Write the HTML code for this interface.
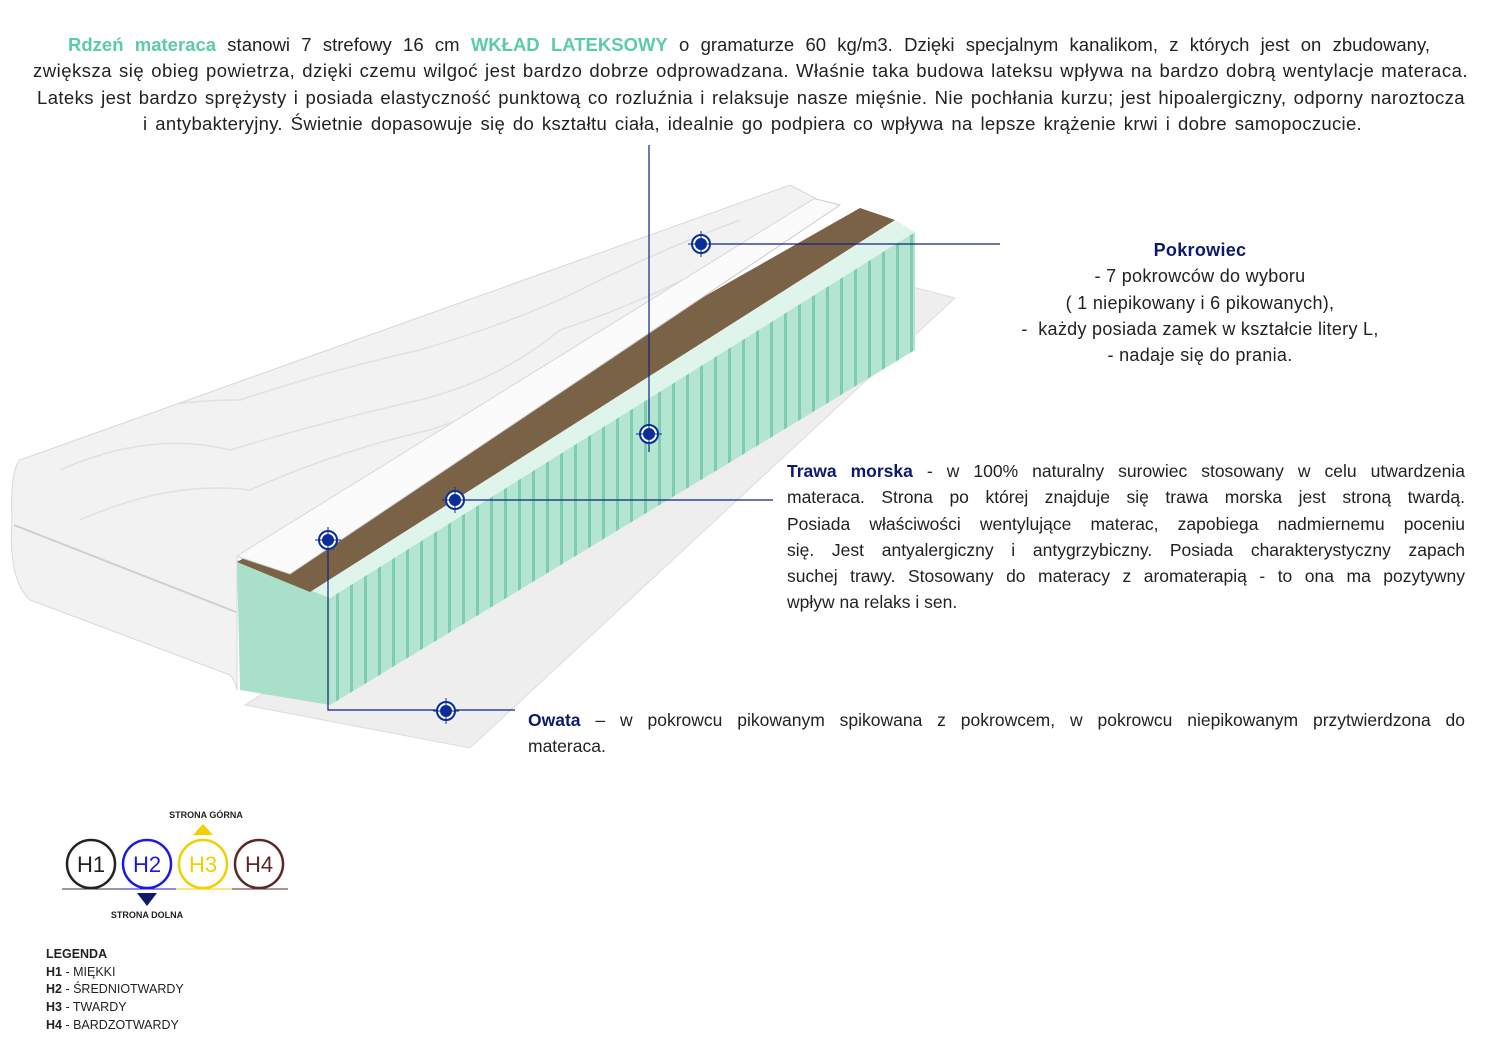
<!DOCTYPE html>
<html><head><meta charset="utf-8"><style>
body{margin:0;width:1500px;height:1051px;background:#fff;position:relative;overflow:hidden;font-family:"Liberation Sans",sans-serif;color:#222}
.t{position:absolute;font-size:18px;line-height:26.3px;white-space:nowrap}
.g{color:#5ccca6;font-weight:bold}
.b{color:#0c1a6e;font-weight:bold}
.jl{display:block;text-align:justify;text-align-last:justify;white-space:normal}
.tl{position:absolute;font-size:18.5px;line-height:26.3px;text-align:justify;text-align-last:justify;white-space:nowrap}
.leg{position:absolute;left:46px;top:946px;font-size:12.5px;line-height:17.7px;color:#222}
</style></head><body>
<div class="tl" style="left:68px;top:32px;width:1362px"><span class="g">Rdzeń materaca</span> stanowi 7 strefowy 16 cm <span class="g">WKŁAD LATEKSOWY</span> o gramaturze 60 kg/m3. Dzięki specjalnym kanalikom, z których jest on zbudowany,</div>
<div class="tl" style="left:33px;top:58px;width:1435px;letter-spacing:0.5px">zwiększa się obieg powietrza, dzięki czemu wilgoć jest bardzo dobrze odprowadzana. Właśnie taka budowa lateksu wpływa na bardzo dobrą wentylacje materaca.</div>
<div class="tl" style="left:37px;top:85px;width:1428px;letter-spacing:0.4px">Lateks jest bardzo sprężysty i posiada elastyczność punktową co rozluźnia i relaksuje nasze mięśnie. Nie pochłania kurzu; jest hipoalergiczny, odporny naroztocza</div>
<div class="tl" style="left:143px;top:111px;width:1219px;letter-spacing:0.3px">i antybakteryjny. Świetnie dopasowuje się do kształtu ciała, idealnie go podpiera co wpływa na lepsze krążenie krwi i dobre samopoczucie.</div>

<svg style="position:absolute;left:0;top:0" width="1500" height="1051">
<defs>
<pattern id="rib" width="14" height="20" patternUnits="userSpaceOnUse"><rect width="14" height="20" fill="#b3e5d1"/><rect width="3" height="20" fill="#7fcdb0"/></pattern>
<clipPath id="cv"><path d="M20,460 L790,185 L815,198 L237,556 L237,690 L30,600 Q8,580 12,520 Q10,470 20,460 Z"/></clipPath></defs>
<polygon points="905,285 955,298 470,748 245,705" fill="#eeeeee" stroke="#ddd"/>
<polygon points="330,598 915,232 915,350 330,705" fill="url(#rib)"/>
<polygon points="237,560 330,598 330,705 240,690" fill="#a9e0c9"/>
<polygon points="330,598 915,232 895,220 310,590" fill="#dff5ec"/>
<polygon points="237,562 310,592 895,220 860,208" fill="#7a6247"/>
<polygon points="236,556 290,574 840,205 812,198" fill="#fbfbfb" stroke="#ccc"/>
<path d="M20,460 L790,185 L815,198 L237,556 L237,690 Q235,680 230,675 L30,600 Q8,580 12,520 Q10,470 20,460 Z" fill="#f2f2f2" stroke="#d8d8d8"/>
<g stroke="#e0e0e0" stroke-width="1.5" fill="none" clip-path="url(#cv)">
<path d="M60,470 Q150,430 230,450 Q330,420 420,400 Q500,380 560,330 Q650,300 720,260"/>
<path d="M80,520 Q170,480 250,490 Q340,450 430,430 Q520,400 590,350 Q670,320 760,250"/>
<path d="M60,430 Q150,400 240,400 Q330,370 420,350 Q520,320 580,290 Q660,250 740,220"/>
</g>
<path d="M14,525 L236,612" stroke="#cfcfcf" stroke-width="2"/>
<g stroke="#102080" stroke-width="1.2" fill="none">
<line x1="701" y1="244" x2="1000" y2="244"/>
<line x1="649" y1="145" x2="649" y2="452"/>
<line x1="455" y1="500" x2="773" y2="500"/>
<polyline points="328,540 328,710 515,710"/>
</g>
<g fill="#0a2d9a" stroke="#0a2d9a">
<g transform="translate(701,244)"><circle r="9" fill="#fff" stroke-width="2"/><circle r="5.5"/><path d="M-13,0H13M0,-13V13" stroke-width="1"/></g>
<g transform="translate(649,434)"><circle r="9" fill="#fff" stroke-width="2"/><circle r="5.5"/><path d="M-13,0H13M0,-13V13" stroke-width="1"/></g>
<g transform="translate(455,500)"><circle r="9" fill="#fff" stroke-width="2"/><circle r="5.5"/><path d="M-13,0H13M0,-13V13" stroke-width="1"/></g>
<g transform="translate(328,540)"><circle r="9" fill="#fff" stroke-width="2"/><circle r="5.5"/><path d="M-13,0H13M0,-13V13" stroke-width="1"/></g>
<g transform="translate(446,711)"><circle r="9" fill="#fff" stroke-width="2"/><circle r="5.5"/><path d="M-13,0H13M0,-13V13" stroke-width="1"/></g>
</g>
<g font-family="Liberation Sans" font-size="22" text-anchor="middle">
<line x1="62" y1="889" x2="120" y2="889" stroke="#333"/><line x1="120" y1="889" x2="176" y2="889" stroke="#1a1acc"/><line x1="176" y1="889" x2="232" y2="889" stroke="#f0d000"/><line x1="232" y1="889" x2="288" y2="889" stroke="#5a2a2a"/>
<circle cx="91" cy="864" r="24" fill="none" stroke="#222" stroke-width="2.5"/><text x="91" y="872" fill="#222">H1</text>
<circle cx="147" cy="864" r="24" fill="none" stroke="#1a1ae0" stroke-width="2.5"/><text x="147" y="872" fill="#1a1ae0">H2</text>
<circle cx="203" cy="864" r="24" fill="none" stroke="#f0d000" stroke-width="2.5"/><text x="203" y="872" fill="#f0d000">H3</text>
<circle cx="259" cy="864" r="24" fill="none" stroke="#5a2a2a" stroke-width="2.5"/><text x="259" y="872" fill="#5a2a2a">H4</text>
<polygon points="193,835 213,835 203,824" fill="#f0d000"/>
<polygon points="137,893 157,893 147,906" fill="#0c1a6e"/>
<text x="206" y="818" font-size="9" font-weight="bold" fill="#222">STRONA GÓRNA</text>
<text x="147" y="918" font-size="9" font-weight="bold" fill="#222">STRONA DOLNA</text>
</g>
</svg>

<div class="t" style="left:1000px;top:237px;width:400px;text-align:center;letter-spacing:0.3px"><span class="b">Pokrowiec</span><br>- 7 pokrowców do wyboru<br>( 1 niepikowany i 6 pikowanych),<br>-&nbsp; każdy posiada zamek w kształcie litery L,<br>- nadaje się do prania.</div>
<div class="t" style="left:787px;top:458px;width:678px;font-size:17.5px">
<span class="jl"><span class="b">Trawa morska</span> - w 100% naturalny surowiec stosowany w celu utwardzenia</span>
<span class="jl">materaca. Strona po której znajduje się trawa morska jest stroną twardą.</span>
<span class="jl">Posiada właściwości wentylujące materac, zapobiega nadmiernemu poceniu</span>
<span class="jl">się. Jest antyalergiczny i antygrzybiczny. Posiada charakterystyczny zapach</span>
<span class="jl">suchej trawy. Stosowany do materacy z aromaterapią - to ona ma pozytywny</span>
<span style="display:block">wpływ na relaks i sen.</span></div>
<div class="t" style="left:528px;top:707px;width:937px;font-size:17.5px">
<span class="jl"><span class="b">Owata</span> – w pokrowcu pikowanym spikowana z pokrowcem, w pokrowcu niepikowanym przytwierdzona do</span>
<span style="display:block">materaca.</span></div>
<div class="leg"><b>LEGENDA</b><br><b>H1</b> - MIĘKKI<br><b>H2</b> - ŚREDNIOTWARDY<br><b>H3</b> - TWARDY<br><b>H4</b> - BARDZOTWARDY</div>
</body></html>
